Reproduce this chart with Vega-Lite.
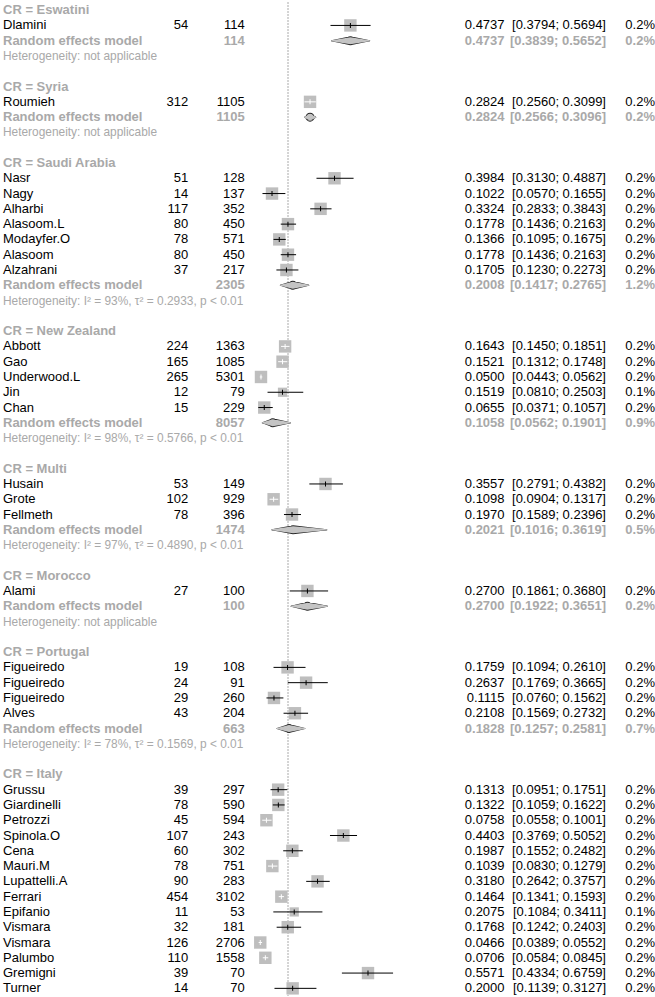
{
  "$schema": "https://vega.github.io/schema/vega-lite/v6.json",
  "padding": {"left": 3, "top": 1.5, "right": 0, "bottom": 0},
  "bounds": "flush",
  "spacing": 0,
  "config": {"view": {"stroke": null}, "text": {"font": "Liberation Sans", "fontSize": 13, "baseline": "middle"}},
  "datasets": {
    "overall": [{"est": 0.178}],
    "rows": [
      {"row": 0, "kind": "header", "label": "CR = Eswatini"},
      {"row": 1, "kind": "study", "label": "Dlamini", "events": 54, "total": 114, "est": 0.4737, "lo": 0.3794, "hi": 0.5694, "ci": "[0.3794; 0.5694]", "w": "0.2%"},
      {"row": 2, "kind": "rem", "label": "Random effects model", "total": 114, "est": 0.4737, "lo": 0.3839, "hi": 0.5652, "ci": "[0.3839; 0.5652]", "w": "0.2%"},
      {"row": 3, "kind": "het", "label": "Heterogeneity: not applicable"},
      {"row": 5, "kind": "header", "label": "CR = Syria"},
      {"row": 6, "kind": "study", "label": "Roumieh", "events": 312, "total": 1105, "est": 0.2824, "lo": 0.2560, "hi": 0.3099, "ci": "[0.2560; 0.3099]", "w": "0.2%"},
      {"row": 7, "kind": "rem", "label": "Random effects model", "total": 1105, "est": 0.2824, "lo": 0.2566, "hi": 0.3096, "ci": "[0.2566; 0.3096]", "w": "0.2%"},
      {"row": 8, "kind": "het", "label": "Heterogeneity: not applicable"},
      {"row": 10, "kind": "header", "label": "CR = Saudi Arabia"},
      {"row": 11, "kind": "study", "label": "Nasr", "events": 51, "total": 128, "est": 0.3984, "lo": 0.3130, "hi": 0.4887, "ci": "[0.3130; 0.4887]", "w": "0.2%"},
      {"row": 12, "kind": "study", "label": "Nagy", "events": 14, "total": 137, "est": 0.1022, "lo": 0.0570, "hi": 0.1655, "ci": "[0.0570; 0.1655]", "w": "0.2%"},
      {"row": 13, "kind": "study", "label": "Alharbi", "events": 117, "total": 352, "est": 0.3324, "lo": 0.2833, "hi": 0.3843, "ci": "[0.2833; 0.3843]", "w": "0.2%"},
      {"row": 14, "kind": "study", "label": "Alasoom.L", "events": 80, "total": 450, "est": 0.1778, "lo": 0.1436, "hi": 0.2163, "ci": "[0.1436; 0.2163]", "w": "0.2%"},
      {"row": 15, "kind": "study", "label": "Modayfer.O", "events": 78, "total": 571, "est": 0.1366, "lo": 0.1095, "hi": 0.1675, "ci": "[0.1095; 0.1675]", "w": "0.2%"},
      {"row": 16, "kind": "study", "label": "Alasoom", "events": 80, "total": 450, "est": 0.1778, "lo": 0.1436, "hi": 0.2163, "ci": "[0.1436; 0.2163]", "w": "0.2%"},
      {"row": 17, "kind": "study", "label": "Alzahrani", "events": 37, "total": 217, "est": 0.1705, "lo": 0.1230, "hi": 0.2273, "ci": "[0.1230; 0.2273]", "w": "0.2%"},
      {"row": 18, "kind": "rem", "label": "Random effects model", "total": 2305, "est": 0.2008, "lo": 0.1417, "hi": 0.2765, "ci": "[0.1417; 0.2765]", "w": "1.2%"},
      {"row": 19, "kind": "het", "label": "Heterogeneity: I² = 93%, τ² = 0.2933, p < 0.01"},
      {"row": 21, "kind": "header", "label": "CR = New Zealand"},
      {"row": 22, "kind": "study", "label": "Abbott", "events": 224, "total": 1363, "est": 0.1643, "lo": 0.1450, "hi": 0.1851, "ci": "[0.1450; 0.1851]", "w": "0.2%"},
      {"row": 23, "kind": "study", "label": "Gao", "events": 165, "total": 1085, "est": 0.1521, "lo": 0.1312, "hi": 0.1748, "ci": "[0.1312; 0.1748]", "w": "0.2%"},
      {"row": 24, "kind": "study", "label": "Underwood.L", "events": 265, "total": 5301, "est": 0.0500, "lo": 0.0443, "hi": 0.0562, "ci": "[0.0443; 0.0562]", "w": "0.2%"},
      {"row": 25, "kind": "study", "label": "Jin", "events": 12, "total": 79, "est": 0.1519, "lo": 0.0810, "hi": 0.2503, "ci": "[0.0810; 0.2503]", "w": "0.1%"},
      {"row": 26, "kind": "study", "label": "Chan", "events": 15, "total": 229, "est": 0.0655, "lo": 0.0371, "hi": 0.1057, "ci": "[0.0371; 0.1057]", "w": "0.2%"},
      {"row": 27, "kind": "rem", "label": "Random effects model", "total": 8057, "est": 0.1058, "lo": 0.0562, "hi": 0.1901, "ci": "[0.0562; 0.1901]", "w": "0.9%"},
      {"row": 28, "kind": "het", "label": "Heterogeneity: I² = 98%, τ² = 0.5766, p < 0.01"},
      {"row": 30, "kind": "header", "label": "CR = Multi"},
      {"row": 31, "kind": "study", "label": "Husain", "events": 53, "total": 149, "est": 0.3557, "lo": 0.2791, "hi": 0.4382, "ci": "[0.2791; 0.4382]", "w": "0.2%"},
      {"row": 32, "kind": "study", "label": "Grote", "events": 102, "total": 929, "est": 0.1098, "lo": 0.0904, "hi": 0.1317, "ci": "[0.0904; 0.1317]", "w": "0.2%"},
      {"row": 33, "kind": "study", "label": "Fellmeth", "events": 78, "total": 396, "est": 0.1970, "lo": 0.1589, "hi": 0.2396, "ci": "[0.1589; 0.2396]", "w": "0.2%"},
      {"row": 34, "kind": "rem", "label": "Random effects model", "total": 1474, "est": 0.2021, "lo": 0.1016, "hi": 0.3619, "ci": "[0.1016; 0.3619]", "w": "0.5%"},
      {"row": 35, "kind": "het", "label": "Heterogeneity: I² = 97%, τ² = 0.4890, p < 0.01"},
      {"row": 37, "kind": "header", "label": "CR = Morocco"},
      {"row": 38, "kind": "study", "label": "Alami", "events": 27, "total": 100, "est": 0.2700, "lo": 0.1861, "hi": 0.3680, "ci": "[0.1861; 0.3680]", "w": "0.2%"},
      {"row": 39, "kind": "rem", "label": "Random effects model", "total": 100, "est": 0.2700, "lo": 0.1922, "hi": 0.3651, "ci": "[0.1922; 0.3651]", "w": "0.2%"},
      {"row": 40, "kind": "het", "label": "Heterogeneity: not applicable"},
      {"row": 42, "kind": "header", "label": "CR = Portugal"},
      {"row": 43, "kind": "study", "label": "Figueiredo", "events": 19, "total": 108, "est": 0.1759, "lo": 0.1094, "hi": 0.2610, "ci": "[0.1094; 0.2610]", "w": "0.2%"},
      {"row": 44, "kind": "study", "label": "Figueiredo", "events": 24, "total": 91, "est": 0.2637, "lo": 0.1769, "hi": 0.3665, "ci": "[0.1769; 0.3665]", "w": "0.2%"},
      {"row": 45, "kind": "study", "label": "Figueiredo", "events": 29, "total": 260, "est": 0.1115, "lo": 0.0760, "hi": 0.1562, "ci": "[0.0760; 0.1562]", "w": "0.2%"},
      {"row": 46, "kind": "study", "label": "Alves", "events": 43, "total": 204, "est": 0.2108, "lo": 0.1569, "hi": 0.2732, "ci": "[0.1569; 0.2732]", "w": "0.2%"},
      {"row": 47, "kind": "rem", "label": "Random effects model", "total": 663, "est": 0.1828, "lo": 0.1257, "hi": 0.2581, "ci": "[0.1257; 0.2581]", "w": "0.7%"},
      {"row": 48, "kind": "het", "label": "Heterogeneity: I² = 78%, τ² = 0.1569, p < 0.01"},
      {"row": 50, "kind": "header", "label": "CR = Italy"},
      {"row": 51, "kind": "study", "label": "Grussu", "events": 39, "total": 297, "est": 0.1313, "lo": 0.0951, "hi": 0.1751, "ci": "[0.0951; 0.1751]", "w": "0.2%"},
      {"row": 52, "kind": "study", "label": "Giardinelli", "events": 78, "total": 590, "est": 0.1322, "lo": 0.1059, "hi": 0.1622, "ci": "[0.1059; 0.1622]", "w": "0.2%"},
      {"row": 53, "kind": "study", "label": "Petrozzi", "events": 45, "total": 594, "est": 0.0758, "lo": 0.0558, "hi": 0.1001, "ci": "[0.0558; 0.1001]", "w": "0.2%"},
      {"row": 54, "kind": "study", "label": "Spinola.O", "events": 107, "total": 243, "est": 0.4403, "lo": 0.3769, "hi": 0.5052, "ci": "[0.3769; 0.5052]", "w": "0.2%"},
      {"row": 55, "kind": "study", "label": "Cena", "events": 60, "total": 302, "est": 0.1987, "lo": 0.1552, "hi": 0.2482, "ci": "[0.1552; 0.2482]", "w": "0.2%"},
      {"row": 56, "kind": "study", "label": "Mauri.M", "events": 78, "total": 751, "est": 0.1039, "lo": 0.0830, "hi": 0.1279, "ci": "[0.0830; 0.1279]", "w": "0.2%"},
      {"row": 57, "kind": "study", "label": "Lupattelli.A", "events": 90, "total": 283, "est": 0.3180, "lo": 0.2642, "hi": 0.3757, "ci": "[0.2642; 0.3757]", "w": "0.2%"},
      {"row": 58, "kind": "study", "label": "Ferrari", "events": 454, "total": 3102, "est": 0.1464, "lo": 0.1341, "hi": 0.1593, "ci": "[0.1341; 0.1593]", "w": "0.2%"},
      {"row": 59, "kind": "study", "label": "Epifanio", "events": 11, "total": 53, "est": 0.2075, "lo": 0.1084, "hi": 0.3411, "ci": "[0.1084; 0.3411]", "w": "0.1%"},
      {"row": 60, "kind": "study", "label": "Vismara", "events": 32, "total": 181, "est": 0.1768, "lo": 0.1242, "hi": 0.2403, "ci": "[0.1242; 0.2403]", "w": "0.2%"},
      {"row": 61, "kind": "study", "label": "Vismara", "events": 126, "total": 2706, "est": 0.0466, "lo": 0.0389, "hi": 0.0552, "ci": "[0.0389; 0.0552]", "w": "0.2%"},
      {"row": 62, "kind": "study", "label": "Palumbo", "events": 110, "total": 1558, "est": 0.0706, "lo": 0.0584, "hi": 0.0845, "ci": "[0.0584; 0.0845]", "w": "0.2%"},
      {"row": 63, "kind": "study", "label": "Gremigni", "events": 39, "total": 70, "est": 0.5571, "lo": 0.4334, "hi": 0.6759, "ci": "[0.4334; 0.6759]", "w": "0.2%"},
      {"row": 64, "kind": "study", "label": "Turner", "events": 14, "total": 70, "est": 0.2000, "lo": 0.1139, "hi": 0.3127, "ci": "[0.1139; 0.3127]", "w": "0.2%"}
    ]
  },
  "hconcat": [
    {
      "width": 125, "height": 993.5,
      "data": {"name": "rows"},
      "encoding": {"y": {"field": "row", "type": "quantitative", "scale": {"domain": [-0.5, 64.5], "reverse": true, "nice": false, "zero": false}, "axis": null}},
      "layer": [
        {"transform": [{"filter": "datum.kind === 'study'"}], "mark": {"type": "text", "align": "left", "color": "black"}, "encoding": {"x": {"value": 0}, "text": {"field": "label"}}},
        {"transform": [{"filter": "datum.kind === 'header' || datum.kind === 'rem'"}], "mark": {"type": "text", "align": "left", "fontWeight": "bold", "color": "#A9A9A9"}, "encoding": {"x": {"value": 0}, "text": {"field": "label"}}},
        {"transform": [{"filter": "datum.kind === 'het'"}], "mark": {"type": "text", "align": "left", "fontSize": 11.9, "color": "#A9A9A9"}, "encoding": {"x": {"value": 0}, "text": {"field": "label"}}}
      ]
    },
    {
      "width": 60.3, "height": 993.5,
      "data": {"name": "rows"},
      "encoding": {"y": {"field": "row", "type": "quantitative", "scale": {"domain": [-0.5, 64.5], "reverse": true, "nice": false, "zero": false}, "axis": null}},
      "layer": [
        {"transform": [{"filter": "datum.kind === 'study'"}], "mark": {"type": "text", "align": "right", "color": "black"}, "encoding": {"x": {"value": "width"}, "text": {"field": "events"}}}
      ]
    },
    {
      "width": 55.7, "height": 993.5,
      "data": {"name": "rows"},
      "encoding": {"y": {"field": "row", "type": "quantitative", "scale": {"domain": [-0.5, 64.5], "reverse": true, "nice": false, "zero": false}, "axis": null}},
      "layer": [
        {"transform": [{"filter": "datum.kind === 'study'"}], "mark": {"type": "text", "align": "right", "color": "black"}, "encoding": {"x": {"value": "width"}, "text": {"field": "total"}}},
        {"transform": [{"filter": "datum.kind === 'rem'"}], "mark": {"type": "text", "align": "right", "fontWeight": "bold", "color": "#A9A9A9"}, "encoding": {"x": {"value": "width"}, "text": {"field": "total"}}}
      ]
    },
    {
      "width": 216.45, "height": 993.5,
      "layer": [
        {"data": {"name": "overall"}, "mark": {"type": "rule", "strokeDash": [1, 2], "color": "#555555", "strokeWidth": 1}, "encoding": {"x": {"field": "est", "type": "quantitative", "scale": {"domain": [-0.0258, 1], "nice": false, "zero": false}, "axis": null}}},
        {"data": {"name": "rows"}, "transform": [{"filter": "datum.kind === 'study'"}], "mark": {"type": "point", "shape": "square", "filled": true, "opacity": 1, "color": "#BEBEBE", "strokeWidth": 0},
         "encoding": {
           "x": {"field": "est", "type": "quantitative", "scale": {"domain": [-0.0258, 1], "nice": false, "zero": false}, "axis": null},
           "y": {"field": "row", "type": "quantitative", "scale": {"domain": [-0.5, 64.5], "reverse": true, "nice": false, "zero": false}, "axis": null},
           "size": {"condition": {"test": "datum.w === '0.1%'", "value": 85}, "value": 154}
         }},
        {"data": {"name": "rows"}, "transform": [{"filter": "datum.kind === 'study'"}], "mark": {"type": "rule", "strokeWidth": 1},
         "encoding": {
           "x": {"field": "lo", "type": "quantitative", "scale": {"domain": [-0.0258, 1], "nice": false, "zero": false}, "axis": null},
           "x2": {"field": "hi"},
           "y": {"field": "row", "type": "quantitative", "scale": {"domain": [-0.5, 64.5], "reverse": true, "nice": false, "zero": false}, "axis": null},
           "color": {"condition": {"test": "(datum.est - datum.lo) < 0.0294 && (datum.hi - datum.est) < 0.0294", "value": "white"}, "value": "black"}
         }},
        {"data": {"name": "rows"}, "transform": [{"filter": "datum.kind === 'study'"}], "mark": {"type": "tick", "orient": "vertical", "size": 5, "thickness": 1, "opacity": 1},
         "encoding": {
           "x": {"field": "est", "type": "quantitative", "scale": {"domain": [-0.0258, 1], "nice": false, "zero": false}, "axis": null},
           "y": {"field": "row", "type": "quantitative", "scale": {"domain": [-0.5, 64.5], "reverse": true, "nice": false, "zero": false}, "axis": null},
           "color": {"condition": {"test": "(datum.est - datum.lo) < 0.0294 && (datum.hi - datum.est) < 0.0294", "value": "white"}, "value": "black"}
         }},
        {"data": {"name": "rows"}, "transform": [{"filter": "datum.kind === 'rem'"}, {"fold": ["lo", "est", "hi"], "as": ["key", "value"]}],
         "mark": {"type": "trail", "color": "#222222", "opacity": 1},
         "encoding": {
           "x": {"field": "value", "type": "quantitative", "scale": {"domain": [-0.0258, 1], "nice": false, "zero": false}, "axis": null},
           "y": {"field": "row", "type": "quantitative", "scale": {"domain": [-0.5, 64.5], "reverse": true, "nice": false, "zero": false}, "axis": null},
           "detail": {"field": "row"},
           "order": {"field": "value", "type": "quantitative"},
           "size": {"condition": {"test": "datum.key === 'est'", "value": 9}, "value": 0}
         }},
        {"data": {"name": "rows"}, "transform": [{"filter": "datum.kind === 'rem'"}], "mark": {"type": "rule", "strokeWidth": 1, "color": "#222222"},
         "encoding": {
           "x": {"field": "lo", "type": "quantitative", "scale": {"domain": [-0.0258, 1], "nice": false, "zero": false}, "axis": null},
           "x2": {"field": "hi"},
           "y": {"field": "row", "type": "quantitative", "scale": {"domain": [-0.5, 64.5], "reverse": true, "nice": false, "zero": false}, "axis": null}
         }},
        {"data": {"name": "rows"}, "transform": [{"filter": "datum.kind === 'rem'"}, {"fold": ["lo", "est", "hi"], "as": ["key", "value"]}],
         "mark": {"type": "trail", "color": "#C4C4C4", "opacity": 1},
         "encoding": {
           "x": {"field": "value", "type": "quantitative", "scale": {"domain": [-0.0258, 1], "nice": false, "zero": false}, "axis": null},
           "y": {"field": "row", "type": "quantitative", "scale": {"domain": [-0.5, 64.5], "reverse": true, "nice": false, "zero": false}, "axis": null},
           "detail": {"field": "row"},
           "order": {"field": "value", "type": "quantitative"},
           "size": {"condition": {"test": "datum.key === 'est'", "value": 7}, "value": 0}
         }}
      ]
    },
    {
      "width": 42.55, "height": 993.5,
      "data": {"name": "rows"},
      "encoding": {"y": {"field": "row", "type": "quantitative", "scale": {"domain": [-0.5, 64.5], "reverse": true, "nice": false, "zero": false}, "axis": null}},
      "layer": [
        {"transform": [{"filter": "datum.kind === 'study'"}], "mark": {"type": "text", "align": "right", "color": "black"}, "encoding": {"x": {"value": "width"}, "text": {"field": "est", "format": ".4f"}}},
        {"transform": [{"filter": "datum.kind === 'rem'"}], "mark": {"type": "text", "align": "right", "fontWeight": "bold", "color": "#A9A9A9"}, "encoding": {"x": {"value": "width"}, "text": {"field": "est", "format": ".4f"}}}
      ]
    },
    {
      "width": 101, "height": 993.5,
      "data": {"name": "rows"},
      "encoding": {"y": {"field": "row", "type": "quantitative", "scale": {"domain": [-0.5, 64.5], "reverse": true, "nice": false, "zero": false}, "axis": null}},
      "layer": [
        {"transform": [{"filter": "datum.kind === 'study'"}], "mark": {"type": "text", "align": "right", "color": "black"}, "encoding": {"x": {"value": "width"}, "text": {"field": "ci"}}},
        {"transform": [{"filter": "datum.kind === 'rem'"}], "mark": {"type": "text", "align": "right", "fontWeight": "bold", "color": "#A9A9A9"}, "encoding": {"x": {"value": "width"}, "text": {"field": "ci"}}}
      ]
    },
    {
      "width": 49, "height": 993.5,
      "data": {"name": "rows"},
      "encoding": {"y": {"field": "row", "type": "quantitative", "scale": {"domain": [-0.5, 64.5], "reverse": true, "nice": false, "zero": false}, "axis": null}},
      "layer": [
        {"transform": [{"filter": "datum.kind === 'study'"}], "mark": {"type": "text", "align": "right", "color": "black"}, "encoding": {"x": {"value": "width"}, "text": {"field": "w"}}},
        {"transform": [{"filter": "datum.kind === 'rem'"}], "mark": {"type": "text", "align": "right", "fontWeight": "bold", "color": "#A9A9A9"}, "encoding": {"x": {"value": "width"}, "text": {"field": "w"}}}
      ]
    }
  ]
}
